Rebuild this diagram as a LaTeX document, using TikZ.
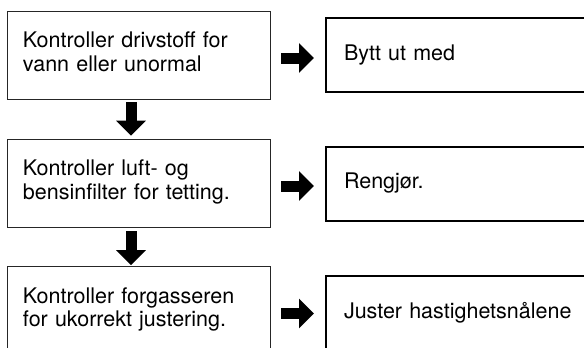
\documentclass[tikz,border=0pt]{standalone}
\usepackage{fontspec}
\setmainfont{TeX Gyre Heros}
\usetikzlibrary{arrows.meta, positioning, calc}

\tikzset{
    boxfont/.style={font=\fontsize{21.5}{23.5}\selectfont},
    checkbox/.style={draw=black!85, line width=0.9pt, boxfont, minimum height=88pt,
        text width=231pt, inner xsep=16pt, inner ysep=0pt, align=left,
        execute at end node={\strut}},
    fixbox/.style={draw=black, line width=2pt, boxfont, minimum height=74pt,
        text width=244pt, inner xsep=18pt, inner ysep=0pt, align=left},
    blockarrow/.style={line width=11pt, -{Triangle[length=15pt, width=29pt]}}
}

\begin{document}
\begin{tikzpicture}[x=1pt, y=-1pt]
    % Frame of the page
    \useasboundingbox (0,0) rectangle (584,348);
    \clip (0,0) rectangle (584,348);

    % Checks on the left
    \node[checkbox] (check1) at (138.5,55) {Kontroller drivstoff for\\vann eller unormal};
    \node[checkbox] (check2) at (138.5,183) {Kontroller luft- og\\bensinfilter for tetting.};
    \node[checkbox] (check3) at (138.5,310.5) {Kontroller forgasseren\\for ukorrekt justering.};

    % Remedies on the right
    \node[fixbox] (fix1) at (466,55) {Bytt ut med};
    \node[fixbox] (fix2) at (466,183.5) {Rengjør.};
    \node[fixbox] (fix3) at (466,313) {Juster hastighetsnålene};

    % Arrows down
    \draw[blockarrow, shorten <=3pt, shorten >=3pt] ([xshift=-7.5pt]check1.south) -- ([xshift=-7.5pt]check2.north);
    \draw[blockarrow, shorten <=4pt, shorten >=1pt] ([xshift=-7.5pt]check2.south) -- ([xshift=-7.5pt]check3.north);

    % Arrows to the right
    \foreach \i in {1,2,3} {
        \draw[blockarrow, shorten <=11pt, shorten >=11pt] ([yshift=-3pt]check\i.east) -- ([yshift=-3pt]check\i.east -| fix\i.west);
    }
\end{tikzpicture}
\end{document}
